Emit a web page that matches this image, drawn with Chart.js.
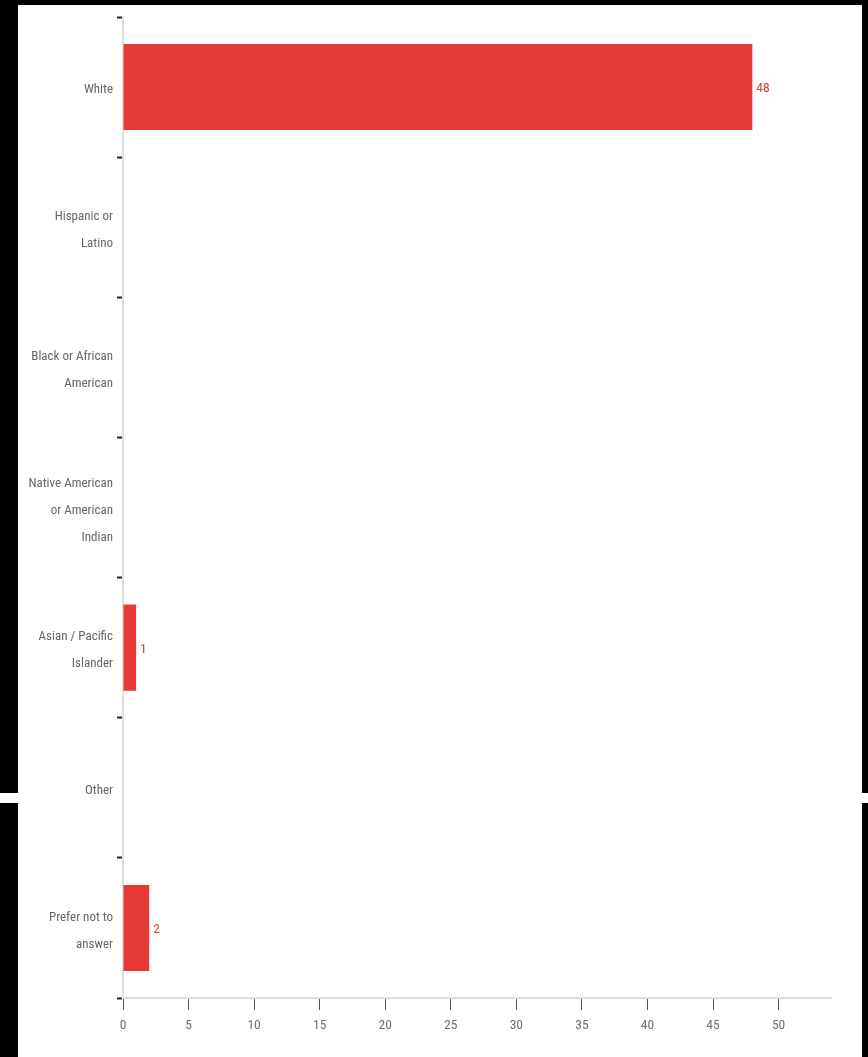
<!DOCTYPE html>
<html><head><meta charset="utf-8">
<script src="https://cdn.jsdelivr.net/npm/chart.js@4"></script>
<style>
html,body{margin:0;padding:0;background:#000;width:868px;height:1057px;overflow:hidden}
#wrap{position:absolute;left:18px;top:5px;width:844px;height:1052px;background:#fff}
.gap{position:absolute;top:793px;height:10px;background:#fff}
</style></head>
<body>
<div id="wrap"><canvas id="c"></canvas></div>
<div class="gap" style="left:0;width:18px"></div>
<div class="gap" style="left:862px;width:6px"></div>
<script>
const categories = [
  'White',
  ['Hispanic or','Latino'],
  ['Black or African','American'],
  ['Native American','or American','Indian'],
  ['Asian / Pacific','Islander'],
  'Other',
  ['Prefer not to','answer']
];
const counts = [48, 0, 0, 0, 1, 0, 2];
const xTicks = [0, 5, 10, 15, 20, 25, 30, 35, 40, 45, 50];

const FONT = '"Roboto Condensed","Liberation Sans Narrow","DejaVu Sans Condensed",sans-serif';
const RED = '#e53a35';

const valueLabels = {
  id: 'valueLabels',
  afterDatasetsDraw(chart) {
    const ctx = chart.ctx;
    const meta = chart.getDatasetMeta(0);
    ctx.save();
    ctx.font = '13.5px ' + FONT;
    ctx.fillStyle = RED;
    ctx.textAlign = 'left';
    ctx.textBaseline = 'middle';
    meta.data.forEach((bar, i) => {
      const v = counts[i];
      if (v > 0) ctx.fillText(String(v), bar.x + 4, bar.y + 2);
    });
    ctx.restore();
  }
};

new Chart(document.getElementById('c'), {
  type: 'bar',
  data: {
    labels: categories,
    datasets: [{ data: counts, backgroundColor: RED, barPercentage: 0.614, categoryPercentage: 1 }]
  },
  options: {
    indexAxis: 'y',
    responsive: true,
    maintainAspectRatio: false,
    animation: false,
    layout: { padding: { top: 12, right: 31, left: 0, bottom: 0 } },
    plugins: { legend: { display: false }, tooltip: { enabled: false } },
    scales: {
      x: {
        min: 0, max: 54,
        afterBuildTicks(s) { s.ticks = xTicks.map(v => ({ value: v })); },
        afterFit(s) { s.height = 59; s.paddingLeft = 0; s.paddingRight = 0; },
        grid: { drawOnChartArea: false, drawTicks: true, tickLength: 12, tickColor: '#555', tickWidth: 1 },
        border: { color: '#dddddd', width: 2 },
        ticks: { color: '#6e6e6e', padding: 8, font: { family: FONT, size: 13.5 }, maxRotation: 0 }
      },
      y: {
        afterFit(s) { s.width = 105; s.paddingTop = 0; s.paddingBottom = 0; },
        grid: { offset: true, drawOnChartArea: false, drawTicks: true, tickLength: 6, tickColor: '#222', tickWidth: 2 },
        border: { color: '#dddddd', width: 2 },
        ticks: { color: '#666666', padding: 4, labelOffset: 3, font: { family: FONT, size: 13, lineHeight: 2.08 }, autoSkip: false }
      }
    }
  },
  plugins: [valueLabels]
});
</script>
</body></html>
